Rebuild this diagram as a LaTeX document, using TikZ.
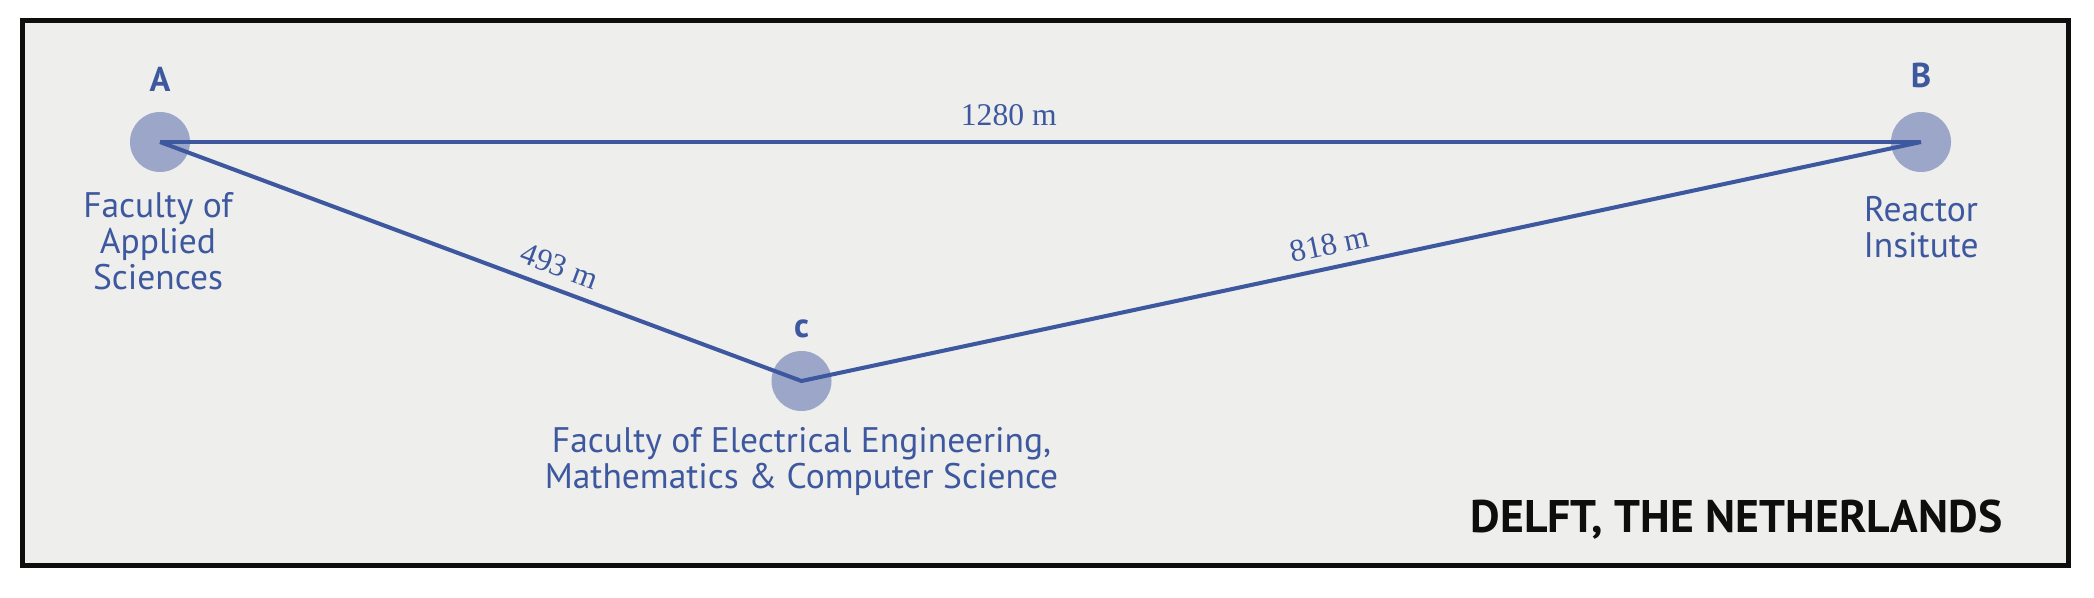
\documentclass[tikz,border=0pt]{standalone}
\usepackage{fontspec}
\setmainfont{PT Sans}
\newfontfamily\distfont{Liberation Serif}
\definecolor{dlblue}{RGB}{62,88,160}
\definecolor{dlspot}{RGB}{155,166,201}
\definecolor{dlbg}{RGB}{238,238,236}
\definecolor{dlframe}{RGB}{14,14,12}

\begin{document}
\begin{tikzpicture}[
  sitedot/.style={circle, fill=dlspot, minimum size=0.6cm, inner sep=0pt},
  sitetag/.style={font=\fontsize{9.8}{10.24}\selectfont\bfseries, text=dlblue, anchor=base, inner sep=0pt},
  sitedesc/.style={font=\fontsize{10.1}{10.24}\selectfont, text=dlblue, align=center, anchor=north, inner sep=0pt},
  distlbl/.style={font=\distfont\fontsize{9}{10}\selectfont, text=dlblue, sloped, inner sep=0pt},
  roadline/.style={draw=dlblue, line width=1.15pt}
]
  \useasboundingbox (0,0) rectangle (20.94,5.98);

  %% Frame
  \draw[draw=dlframe, fill=dlbg, line width=0.05cm] (0.225,0.325) rectangle (20.685,5.775);

  %% Sites
  \node[sitedot] (A) at (1.60,4.56) {};
  \node[sitedot] (B) at (19.21,4.56) {};
  \node[sitedot] (C) at (8.015,2.17) {};

  \node[sitetag] (A-tag) at (1.60,5.06) {A};
  \node[sitetag] (B-tag) at (19.21,5.10) {B};
  \node[sitetag] (C-tag) at (8.015,2.60) {c};

  \node[sitedesc] (A-desc) at (1.58,4.06) {Faculty of\\Applied\\Sciences};
  \node[sitedesc] (B-desc) at (19.21,4.02) {Reactor\\Insitute};
  \node[sitedesc] (C-desc) at (8.015,1.71) {Faculty of Electrical Engineering,\\Mathematics \& Computer Science};

  %% Distances
  \draw[roadline] (A.center) -- node[distlbl, pos=0.482, above=4pt] (AB-dist) {1280 m} (B.center);
  \draw[roadline] (A.center) -- node[distlbl, pos=0.61, above=3pt] (AC-dist) {493 m}
                  (C.center) -- node[distlbl, pos=0.476, above=3pt] (CB-dist) {818 m} (B.center);

  %% Place
  \node[font=\fontsize{13}{15}\selectfont\bfseries, text=dlframe, anchor=base east, inner sep=0pt] (place) at (20.03,0.65) {DELFT, THE NETHERLANDS};
\end{tikzpicture}
\end{document}
